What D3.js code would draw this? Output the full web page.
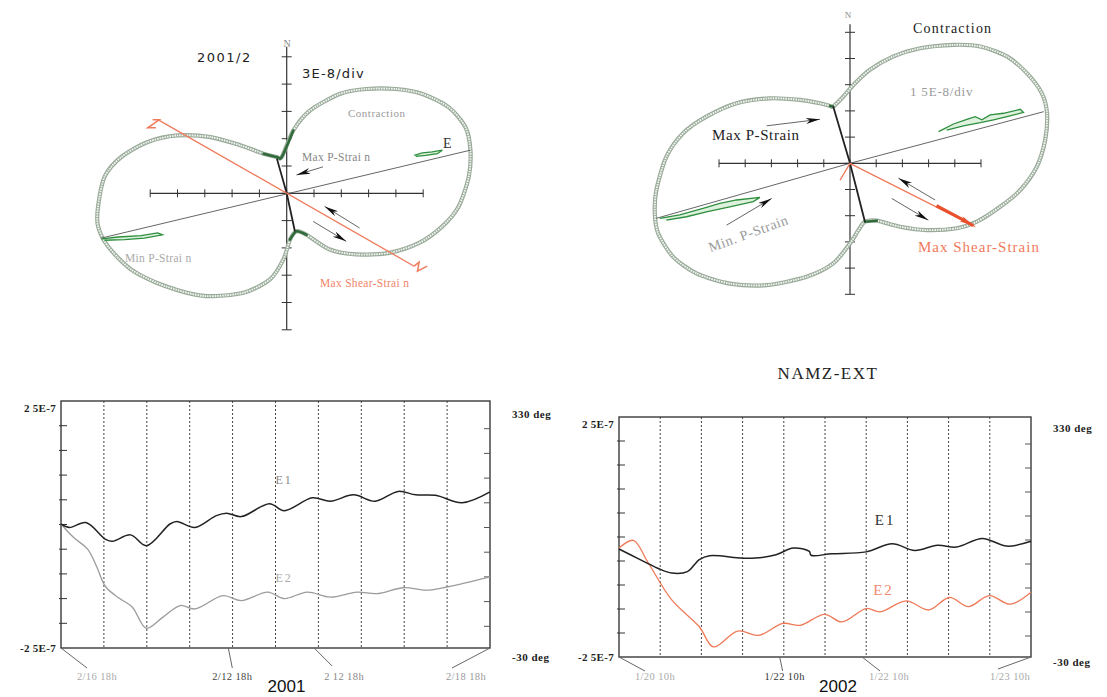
<!DOCTYPE html>
<html lang="en">
<head>
<meta charset="UTF-8">
<title>NAMZ-EXT</title>
<script src="https://d3js.org/d3.v7.min.js"></script>
<style>
  body { margin: 0; background: #fff; }
  svg { display: block; }
  text { font-family: "Liberation Serif", "DejaVu Serif", serif; }
</style>
</head>
<body>
<svg id="chart" width="1107" height="697"></svg>
<script>
// ---------- strain "peanut" diagrams, points in plot divisions [east, north]
var outline2001 = [[4.0,3.82],[4.97,3.64],[5.94,3.15],
  [6.55,2.42],[6.73,1.58],[6.67,0.61],[6.30,-0.48],[5.70,-1.21],[4.85,-1.82],[3.76,-2.18],[2.55,-2.24],[1.58,-2.06],
  [0.73,-1.52],[0.36,-1.39],[0.12,-1.70],[-0.12,-2.42],[-0.61,-3.15],[-1.58,-3.64],[-3.03,-3.76],[-4.48,-3.39],
  [-5.70,-2.79],[-6.55,-1.94],[-6.91,-1.21],[-6.91,-0.48],[-6.67,0.61],[-6.06,1.33],[-5.09,1.88],[-4.0,2.12],
  [-2.79,2.06],[-1.70,1.76],[-0.85,1.45],[-0.36,1.33],[-0.18,1.33],[0.24,2.30],[0.85,3.03],[1.94,3.64],[2.91,3.82]]
var outline2002 = [[3.95,4.52],[4.97,4.46],
  [5.99,4.08],[6.75,3.44],[7.32,2.68],[7.52,1.91],[7.45,0.89],[7.13,-0.13],[6.50,-1.02],[5.73,-1.66],[4.84,-2.23],
  [4.08,-2.48],[2.93,-2.55],[1.91,-2.42],[1.02,-2.19],[0.57,-2.23],[0.32,-2.55],[0,-3.06],[-0.64,-3.82],[-1.66,-4.33],
  [-3.18,-4.65],[-4.59,-4.59],[-5.86,-4.20],[-6.75,-3.57],[-7.32,-2.68],[-7.45,-1.91],[-7.39,-1.02],[-7.01,0.25],
  [-6.37,1.15],[-5.48,1.78],[-4.33,2.29],[-3.06,2.48],[-1.91,2.42],[-1.15,2.29],[-0.76,2.19],
  [-0.64,2.17],[-0.25,2.55],[0.13,2.99],[0.76,3.57],[1.66,4.08],[2.68,4.39]]

var minLine2001 = [[-6.79,-1.64],[6.73,1.58]]
var maxLine2001 = [[-0.36,1.27],[0,0],[0.30,-1.39]]
var shear2001 = [[-4.67,2.67],[4.67,-2.67]]
var shearEndA2001 = [[-4.91,2.69],[-4.67,2.69],[-5.09,2.40],[-4.79,2.40]]
var shearEndB2001 = [[4.67,-2.67],[4.85,-2.52],[4.79,-2.85],[5.15,-2.67]]
var greenR2001 = [[4.67,1.39],[4.97,1.48],[5.33,1.52],[5.70,1.58],[5.52,1.45],[5.09,1.39],[4.73,1.35]]
var greenL2001 = [[-6.79,-1.67],[-6.18,-1.60],[-5.33,-1.55],[-4.73,-1.45],[-4.55,-1.52],[-5.21,-1.64],[-5.94,-1.70],[-6.67,-1.72]]
var arrows2001 = [[[1.33,0.97],[0.36,0.67]],[[2.67,-1.27],[1.39,-0.48]],[[0.97,-1.03],[2.18,-1.76]]]

var minLine2002 = [[-7.39,-2.10],[0,0],[7.39,1.97]]
var maxLine2002 = [[-0.64,2.17],[0,0],[0.57,-2.23]]
var shear2002 = [[-0.38,-0.64],[0,0],[4.78,-2.42]]
var shearTrace2002 = [[3.3,-1.62],[3.8,-1.88],[4.3,-2.15],[4.7,-2.38]]
var greenR2002 = [[3.38,1.21],[3.95,1.50],[4.46,1.68],[4.78,1.78],[5.03,1.66],[5.35,1.85],[5.86,1.91],[6.50,2.06],
  [6.62,1.94],[5.99,1.78],[5.48,1.66],[4.97,1.55],[4.33,1.43],[3.69,1.27]]
var greenL2002 = [[-7.26,-2.10],[-6.50,-1.97],[-5.61,-1.72],[-4.97,-1.53],[-4.33,-1.40],[-3.44,-1.30],[-3.69,-1.46],
  [-4.59,-1.66],[-5.48,-1.85],[-6.24,-2.04],[-7.01,-2.17]]
var arrows2002 = [[[-3.18,1.43],[-1.15,1.68]],[[-4.71,-2.36],[-2.99,-1.34]],[[3.25,-1.40],[1.85,-0.57]],[[1.59,-1.34],[2.99,-2.17]]]

// ---------- NAMZ-EXT time series (x in day divisions, strain in 1E-8)
var e1_2001 = [[0,0.1],[0.2,-0.6],[0.58,0.4],[1.04,-3.0],[1.2,-3.4],[1.62,-2.1],[1.99,-4.3],[2.54,0.1],[2.7,0.6],
  [3.12,-0.6],[3.62,1.8],[3.86,2.3],[4.2,1.6],[4.86,4.2],[5.2,2.8],[5.86,5.4],[6.28,4.7],[6.82,6.0],[7.32,4.7],
  [7.86,6.7],[8.27,6.0],[8.73,5.9],[9.35,4.4],[10,6.6]]
var e2_2001 = [[0,0.1],[0.29,-2.6],[0.62,-5.0],[0.83,-8.5],[1.04,-12.6],[1.37,-15.0],[1.66,-16.7],[1.99,-21.0],
  [2.37,-18.8],[2.78,-16.4],[3.12,-17.1],[3.78,-14.4],[4.2,-15.4],[4.82,-13.7],[5.2,-15.0],[5.74,-13.7],[6.28,-14.7],
  [6.9,-13.7],[7.36,-14.0],[7.98,-12.8],[8.52,-13.3],[9.02,-12.6],[10,-10.6]]
var e1_2002 = [[0,-2.5],[0.44,-4.4],[0.94,-6.5],[1.28,-7.5],[1.66,-7.2],[1.95,-4.7],[2.2,-3.9],[2.97,-4.4],[3.3,-4.4],
  [3.81,-3.7],[4.23,-2.3],[4.62,-3.0],[4.66,-3.8],[5.16,-3.5],[6.0,-3.1],[6.63,-1.4],[7.18,-2.8],[7.73,-1.7],
  [8.19,-2.1],[8.82,-0.3],[9.41,-1.9],[10,-0.9]]
var e2_2002 = [[0,-2.3],[0.35,-0.7],[0.69,-5.1],[1.28,-13.1],[1.95,-18.7],[2.29,-22.9],[2.88,-19.6],[3.39,-20.5],
  [3.98,-18.0],[4.4,-18.4],[4.99,-16.1],[5.41,-17.7],[6.0,-14.9],[6.34,-15.6],[6.97,-13.3],[7.52,-15.2],[8.02,-12.6],
  [8.48,-14.5],[8.99,-12.2],[9.49,-14.0],[10,-11.5]]

var dayTicks = [0,1,2,3,4,5,6,7,8,9,10]
var strainTicks = [-25,-20,-15,-10,-5,0,5,10,15,20,25]
var xLabels2001 = ["2/16 18h", "2/12 18h", "2 12 18h", "2/18 18h"]
var xLabels2002 = ["1/20 10h", "1/22 10h", "1/22 10h", "1/23 10h"]
var xLabelAt = [0, 3.9, 5.9, 10]

var svg = d3.select("#chart")
var defs = svg.append("defs")
function marker(id, color) {
  defs.append("marker").attr("id", id)
      .attr("viewBox", "0 0 14 6").attr("refX", 14).attr("refY", 3)
      .attr("markerUnits", "userSpaceOnUse").attr("markerWidth", 15).attr("markerHeight", 6)
      .attr("orient", "auto")
    .append("path").attr("d", "M0,0L14,3L0,6L4,3Z").attr("fill", color)
}
marker("headBlack", "#111")
marker("headRed", "#e8502e")

function polar(c) {
  var x = d3.scaleLinear().domain([-5, 5]).range([c.cx - 5 * c.unit, c.cx + 5 * c.unit])
  var y = d3.scaleLinear().domain([-5, 5]).range([c.cy + 5 * c.unit, c.cy - 5 * c.unit])
  var g = svg.append("g")
  var line = d3.line().x(function(d) { return x(d[0]) }).y(function(d) { return y(d[1]) })

  // axes with ticks
  g.append("line").attr("x1", x(-5)).attr("x2", x(5)).attr("y1", y(0)).attr("y2", y(0))
      .attr("stroke", "#333").attr("stroke-width", 1.2)
  g.append("line").attr("x1", x(0)).attr("x2", x(0)).attr("y1", y(5) - c.top).attr("y2", y(-5))
      .attr("stroke", "#333").attr("stroke-width", 1.2)
  g.selectAll(".tx").data(dayTicks).enter().append("line")
      .attr("x1", function(d) { return x(d - 5) }).attr("x2", function(d) { return x(d - 5) })
      .attr("y1", y(0) - 4).attr("y2", y(0) + 4).attr("stroke", "#333")
  g.selectAll(".ty").data(dayTicks).enter().append("line")
      .attr("y1", function(d) { return y(d - 5) }).attr("y2", function(d) { return y(d - 5) })
      .attr("x1", x(0) - 5).attr("x2", x(0) + 5).attr("stroke", "#333")

  // hatched double outline
  var closed = d3.line().x(function(d) { return x(d[0]) }).y(function(d) { return y(d[1]) })
      .curve(d3.curveCardinalClosed.tension(0.2))
  g.append("path").attr("d", closed(c.outline)).attr("fill", "none")
      .attr("stroke", "#9aab9a").attr("stroke-width", 4.2)
  g.append("path").attr("d", closed(c.outline)).attr("fill", "none")
      .attr("stroke", "#f2f5f2").attr("stroke-width", 1.9).attr("stroke-dasharray", "1.6 0.9")
  var neck = d3.line().x(function(d) { return x(d[0]) }).y(function(d) { return y(d[1]) })
      .defined(function(d) { return Math.hypot(d[0], d[1]) < c.neckR })
      .curve(d3.curveCardinal.tension(0.2))
  g.append("path").attr("d", neck(c.outline)).attr("fill", "none")
      .attr("stroke", "#2f6a3a").attr("stroke-width", 2.6).attr("stroke-linecap", "round")

  // principal directions
  g.append("path").attr("d", line(c.minLine)).attr("fill", "none").attr("stroke", "#555").attr("stroke-width", 0.9)
  c.greens.forEach(function(gr) {
    g.append("path").attr("d", line(gr)).attr("fill", "#9fd89f").attr("fill-opacity", 0.35)
        .attr("stroke", "#2e8f3e").attr("stroke-width", 1.3)
  })
  g.append("path").attr("d", line(c.maxLine)).attr("fill", "none").attr("stroke", "#222").attr("stroke-width", 1.8)
  g.append("path").attr("d", line(c.shear)).attr("fill", "none").attr("stroke", "#f07a5c").attr("stroke-width", 1.3)
  c.shearEnds.forEach(function(s) {
    g.append("path").attr("d", line(s)).attr("fill", "none").attr("stroke", "#f07a5c").attr("stroke-width", 1.5)
  })
  if (c.trace) {
    g.append("path").attr("d", line(c.trace)).attr("fill", "none").attr("stroke", "#e8502e")
        .attr("stroke-width", 3.2).attr("marker-end", "url(#headRed)")
  }
  c.arrows.forEach(function(a) {
    g.append("path").attr("d", line(a)).attr("fill", "none").attr("stroke", "#666")
        .attr("stroke-width", 1).attr("marker-end", "url(#headBlack)")
  })
  return { x: x, y: y }
}

polar({ cx: 286.7, cy: 193.3, unit: 27.3, top: 10, neckR: 2.35, outline: outline2001,
  minLine: minLine2001, maxLine: maxLine2001, shear: shear2001, shearEnds: [shearEndA2001, shearEndB2001],
  greens: [greenR2001, greenL2001], arrows: arrows2001 })
polar({ cx: 850, cy: 163.3, unit: 26.2, top: 8, neckR: 2.45, outline: outline2002,
  minLine: minLine2002, maxLine: maxLine2002, shear: shear2002, shearEnds: [], trace: shearTrace2002,
  greens: [greenR2002, greenL2002], arrows: arrows2002 })

function txt(s, x, y, size, color, opts) {
  opts = opts || {}
  var t = svg.append("text").attr("x", x).attr("y", y).attr("font-size", size).attr("fill", color)
      .attr("text-anchor", opts.anchor || "start").attr("letter-spacing", opts.ls || 0).text(s)
  if (opts.family) t.style("font-family", opts.family)
  if (opts.weight) t.attr("font-weight", opts.weight)
  if (opts.rotate) t.attr("transform", "rotate(" + opts.rotate + "," + x + "," + y + ")")
  return t
}

// polar labels
txt("2001/2", 197, 62, 13, "#222", { ls: 1.5, family: "DejaVu Sans" })
txt("3E-8/div", 302, 78, 13, "#222", { ls: 1.2, family: "DejaVu Sans" })
txt("N", 287, 47, 10, "#888", { anchor: "middle" })
txt("Contraction", 348, 117, 11, "#9a9a9a", { ls: 0.5 })
txt("E", 443, 148, 14, "#333")
txt("Max  P-Strai n", 302, 161, 11.5, "#888", { ls: 0.3 })
txt("Min  P-Strai n", 125, 262, 11.5, "#aaa", { ls: 0.3 })
txt("Max  Shear-Strai n", 320, 287, 11.5, "#f0846a", { ls: 0.3 })

txt("N", 848, 18, 9, "#888", { anchor: "middle" })
txt("Contraction", 913, 33, 14, "#222", { ls: 1.2 })
txt("1 5E-8/div", 910, 96, 13, "#999", { ls: 0.8 })
txt("Max  P-Strain", 712, 140, 15, "#222", { ls: 0.6 })
txt("Min. P-Strain", 750, 238, 14, "#999", { anchor: "middle", ls: 0.6, rotate: -20 })
txt("Max Shear-Strain", 918, 252, 15, "#f07a5c", { ls: 1 })

txt("NAMZ-EXT", 828, 379, 17, "#222", { anchor: "middle", ls: 1.5 })

// ---------- time series panels
function panel(c) {
  var x = d3.scaleLinear().domain([0, 10]).range([c.x0, c.x1])
  var y = d3.scaleLinear().domain([-25, 25]).range([c.y1, c.y0])
  var g = svg.append("g")

  g.selectAll(".grid").data(dayTicks.slice(1, 10)).enter().append("line")
      .attr("x1", x).attr("x2", x).attr("y1", c.y0).attr("y2", c.y1)
      .attr("stroke", "#444").attr("stroke-width", 1).attr("stroke-dasharray", "2 2")
  g.append("rect").attr("x", c.x0).attr("y", c.y0).attr("width", c.x1 - c.x0).attr("height", c.y1 - c.y0)
      .attr("fill", "none").attr("stroke", "#3a3a3a").attr("stroke-width", 1.4)
  g.selectAll(".tl").data(strainTicks.slice(1, 10)).enter().append("line")
      .attr("x1", c.x0 - 2).attr("x2", c.x0 + 6).attr("y1", y).attr("y2", y).attr("stroke", "#333")
  g.selectAll(".tr").data(strainTicks.slice(1, 10)).enter().append("line")
      .attr("x1", c.x1 - 6).attr("x2", c.x1).attr("y1", function(d) { return y(d) + 3 }).attr("y2", function(d) { return y(d) + 3 })
      .attr("stroke", "#555")

  var line = d3.line().x(function(d) { return x(d[0]) }).y(function(d) { return y(d[1]) })
      .curve(d3.curveCatmullRom.alpha(0.5))
  g.append("path").attr("d", line(c.e2)).attr("fill", "none").attr("stroke", c.e2color).attr("stroke-width", 1.3)
  g.append("path").attr("d", line(c.e1)).attr("fill", "none").attr("stroke", "#222").attr("stroke-width", 1.5)

  txt("E1", x(c.e1Label[0]), y(c.e1Label[1]) + 5, c.labelSize, c.e1LabelColor, { anchor: "middle", ls: 2 })
  txt("E2", x(c.e2Label[0]), y(c.e2Label[1]) + 5, c.labelSize, c.e2LabelColor, { anchor: "middle", ls: 2 })

  txt("2 5E-7", c.x0 - 5, c.y0 + 11, 11, "#222", { anchor: "end", weight: "bold", ls: 0.3 })
  txt("-2 5E-7", c.x0 - 5, c.y1 + 4, 11, "#222", { anchor: "end", weight: "bold", ls: 0.3 })
  txt("330 deg", c.x1 + 22, c.y0 + c.degTop, 11, "#222", { weight: "bold", ls: 0.5 })
  txt("-30 deg", c.x1 + 22, c.y1 + c.degBottom, 11, "#222", { weight: "bold", ls: 0.5 })

  c.xLabels.forEach(function(s, i) {
    var px = x(xLabelAt[i])
    g.append("line").attr("x1", px).attr("y1", c.y1).attr("x2", px + c.leader[i][0]).attr("y2", c.y1 + c.leader[i][1])
        .attr("stroke", "#666").attr("stroke-width", 1)
    txt(s, px + c.labelDx[i], 680, 10.5, c.xColors[i], { anchor: "middle", ls: 0.4 })
  })
  txt(c.year, (c.x0 + c.x1) / 2 + c.yearDx, 692, 17, "#111", { anchor: "middle", family: "Liberation Sans" })
}

panel({ x0: 61, x1: 490, y0: 401, y1: 648, e1: e1_2001, e2: e2_2001, e2color: "#9c9c9c",
  e1Label: [5.2, 9.3], e2Label: [5.2, -10.6], labelSize: 12, e1LabelColor: "#888", e2LabelColor: "#aaa",
  degTop: 17, degBottom: 13, xLabels: xLabels2001, labelDx: [36, 4, 30, -24],
  leader: [[26, 20], [4, 20], [18, 18], [-38, 20]], xColors: ["#aaa", "#444", "#888", "#999"],
  year: "2001", yearDx: 11 })
panel({ x0: 619, x1: 1031, y0: 417, y1: 657, e1: e1_2002, e2: e2_2002, e2color: "#ef7a58",
  e1Label: [6.46, 3.5], e2Label: [6.42, -11.0], labelSize: 15, e1LabelColor: "#333", e2LabelColor: "#f08a6e",
  degTop: 15, degBottom: 9, xLabels: xLabels2002, labelDx: [36, 5, 27, -21],
  leader: [[26, 14], [3, 14], [18, 14], [-33, 12]], xColors: ["#aaa", "#333", "#aaa", "#aaa"],
  year: "2002", yearDx: 13 })
</script>
</body>
</html>
